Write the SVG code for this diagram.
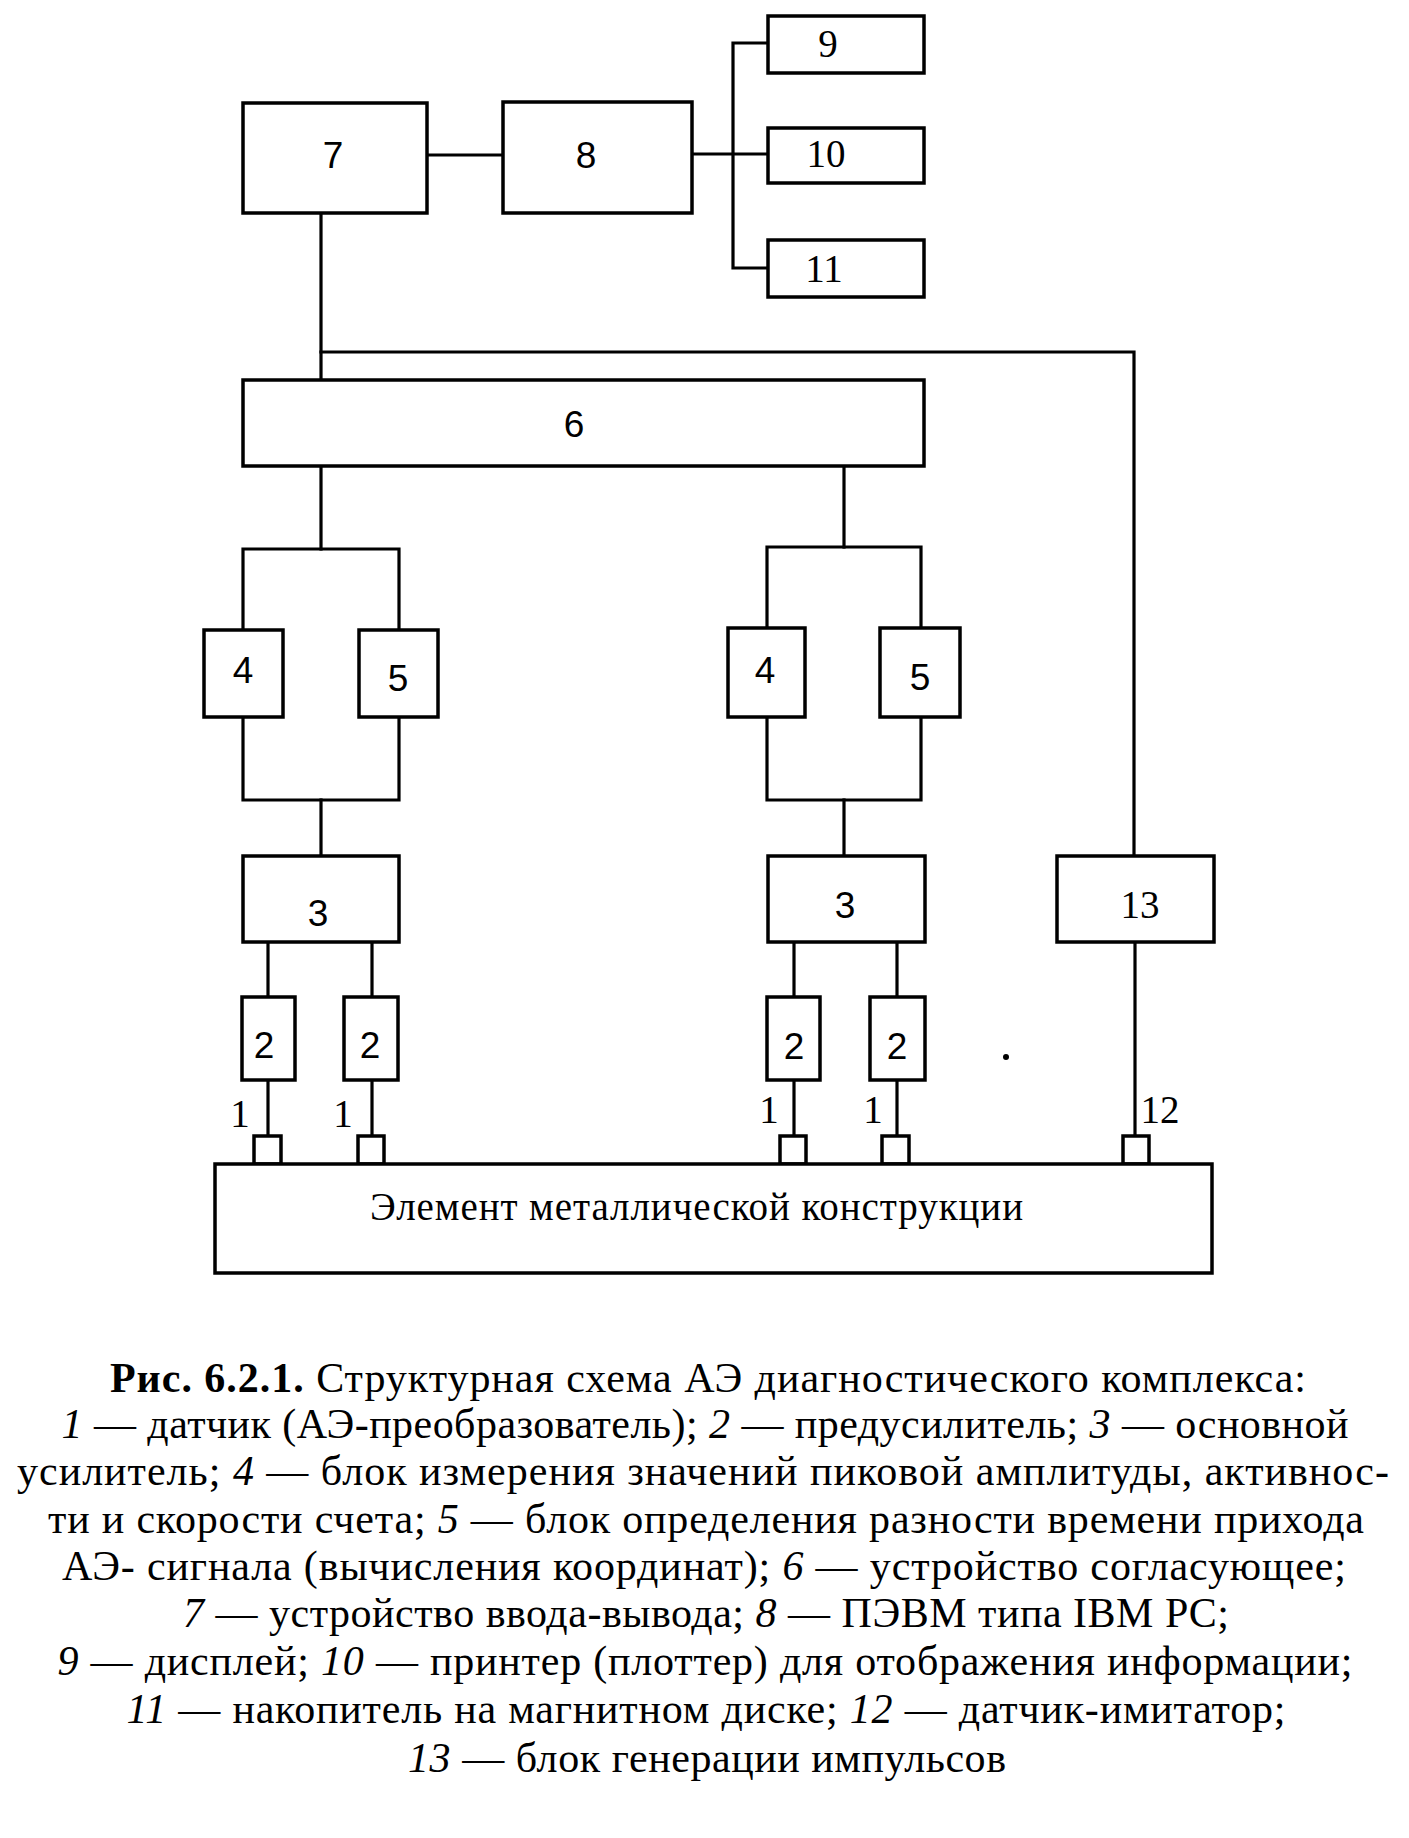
<svg xmlns="http://www.w3.org/2000/svg" width="1409" height="1838" viewBox="0 0 1409 1838">
<style>
.box{fill:#fff;stroke:#000;stroke-width:3.5}
.ln{fill:none;stroke:#000;stroke-width:3.2;stroke-linecap:square}
.ns{font-family:"Liberation Sans","DejaVu Sans",sans-serif;font-size:37px;fill:#000;text-anchor:middle}
.nr{font-family:"Liberation Serif","DejaVu Serif",serif;font-size:39px;fill:#000;text-anchor:middle}
.lb{font-family:"Liberation Serif","DejaVu Serif",serif;font-size:39px;fill:#000}
.cap{font-family:"Liberation Serif","DejaVu Serif",serif;font-size:42px;fill:#000;text-anchor:middle}
.it{font-style:italic}
</style>
<rect width="1409" height="1838" fill="#fff"/>
<g id="connectors">
<path class="ln" d="M427 155H503"/>
<path class="ln" d="M692 154H768"/>
<path class="ln" d="M768 43H733V268H768"/>
<path class="ln" d="M321 213V380"/>
<path class="ln" d="M321 352H1134V856"/>
<path class="ln" d="M321 466V549"/>
<path class="ln" d="M243 630V549H399V630"/>
<path class="ln" d="M243 717V800H399V717"/>
<path class="ln" d="M321 800V856"/>
<path class="ln" d="M268 942V997"/>
<path class="ln" d="M372 942V997"/>
<path class="ln" d="M268 1080V1136"/>
<path class="ln" d="M372 1080V1136"/>
<path class="ln" d="M844 466V547"/>
<path class="ln" d="M767 628V547H921V628"/>
<path class="ln" d="M767 717V800H921V717"/>
<path class="ln" d="M844 800V856"/>
<path class="ln" d="M794 942V997"/>
<path class="ln" d="M897 942V997"/>
<path class="ln" d="M794 1080V1136"/>
<path class="ln" d="M897 1080V1136"/>
<path class="ln" d="M1135 942V1136"/>
</g>
<g id="node7"><rect class="box" x="243" y="103" width="184" height="110"/><text class="ns" x="333" y="168">7</text></g>
<g id="node8"><rect class="box" x="503" y="102" width="189" height="111"/><text class="ns" x="586" y="168">8</text></g>
<g id="node9"><rect class="box" x="768" y="16" width="156" height="57"/><text class="nr" x="828" y="57">9</text></g>
<g id="node10"><rect class="box" x="768" y="128" width="156" height="55"/><text class="nr" x="826" y="167">10</text></g>
<g id="node11"><rect class="box" x="768" y="240" width="156" height="57"/><text class="nr" x="824" y="282">11</text></g>
<g id="node6"><rect class="box" x="243" y="380" width="681" height="86"/><text class="ns" x="574" y="437">6</text></g>
<g id="node4a"><rect class="box" x="204" y="630" width="79" height="87"/><text class="ns" x="243" y="683">4</text></g>
<g id="node5a"><rect class="box" x="359" y="630" width="79" height="87"/><text class="ns" x="398" y="691">5</text></g>
<g id="node4b"><rect class="box" x="728" y="628" width="77" height="89"/><text class="ns" x="765" y="683">4</text></g>
<g id="node5b"><rect class="box" x="880" y="628" width="80" height="89"/><text class="ns" x="920" y="690">5</text></g>
<g id="node3a"><rect class="box" x="243" y="856" width="156" height="86"/><text class="ns" x="318" y="926">3</text></g>
<g id="node3b"><rect class="box" x="768" y="856" width="157" height="86"/><text class="ns" x="845" y="918">3</text></g>
<g id="node13"><rect class="box" x="1057" y="856" width="157" height="86"/><text class="nr" x="1140" y="918">13</text></g>
<g id="node2a"><rect class="box" x="242" y="997" width="53" height="83"/><text class="ns" x="264" y="1058">2</text></g>
<g id="node2b"><rect class="box" x="344" y="997" width="54" height="83"/><text class="ns" x="370" y="1058">2</text></g>
<g id="node2c"><rect class="box" x="767" y="997" width="53" height="83"/><text class="ns" x="794" y="1059">2</text></g>
<g id="node2d"><rect class="box" x="870" y="997" width="55" height="83"/><text class="ns" x="897" y="1059">2</text></g>
<g id="sensor1a"><rect class="box" x="254" y="1136" width="27" height="28"/><text class="nr" x="240" y="1127">1</text></g>
<g id="sensor1b"><rect class="box" x="358" y="1136" width="26" height="28"/><text class="nr" x="343" y="1127">1</text></g>
<g id="sensor1c"><rect class="box" x="780" y="1136" width="26" height="28"/><text class="nr" x="769" y="1123">1</text></g>
<g id="sensor1d"><rect class="box" x="882" y="1136" width="27" height="28"/><text class="nr" x="873" y="1123">1</text></g>
<g id="sensor12"><rect class="box" x="1123" y="1136" width="26" height="28"/><text class="nr" x="1160" y="1123">12</text></g>
<g id="element"><rect class="box" x="215" y="1164" width="997" height="109"/><text class="lb" x="370" y="1220" textLength="653">Элемент металлической конструкции</text></g>
<circle cx="1006" cy="1057" r="3" fill="#000"/>
<g id="caption">
<text class="cap" x="708" y="1392" textLength="1196"><tspan font-weight="bold">Рис. 6.2.1.</tspan> Структурная схема АЭ диагностического комплекса:</text>
<text class="cap" x="705" y="1438" textLength="1287"><tspan class="it">1</tspan> — датчик (АЭ-преобразователь); <tspan class="it">2</tspan> — предусилитель; <tspan class="it">3</tspan> — основной</text>
<text class="cap" x="703" y="1485" textLength="1372">усилитель; <tspan class="it">4</tspan> — блок измерения значений пиковой амплитуды, активнос-</text>
<text class="cap" x="706" y="1533" textLength="1316">ти и скорости счета; <tspan class="it">5</tspan> — блок определения разности времени прихода</text>
<text class="cap" x="704" y="1580" textLength="1284">АЭ- сигнала (вычисления координат); <tspan class="it">6</tspan> — устройство согласующее;</text>
<text class="cap" x="706" y="1627" textLength="1046"><tspan class="it">7</tspan> — устройство ввода-вывода; <tspan class="it">8</tspan> — ПЭВМ типа IBM PC;</text>
<text class="cap" x="705" y="1675" textLength="1295"><tspan class="it">9</tspan> — дисплей; <tspan class="it">10</tspan> — принтер (плоттер) для отображения информации;</text>
<text class="cap" x="706" y="1723" textLength="1159"><tspan class="it">11</tspan> — накопитель на магнитном диске; <tspan class="it">12</tspan> — датчик-имитатор;</text>
<text class="cap" x="707" y="1772" textLength="598"><tspan class="it">13</tspan> — блок генерации импульсов</text>
</g>
</svg>
